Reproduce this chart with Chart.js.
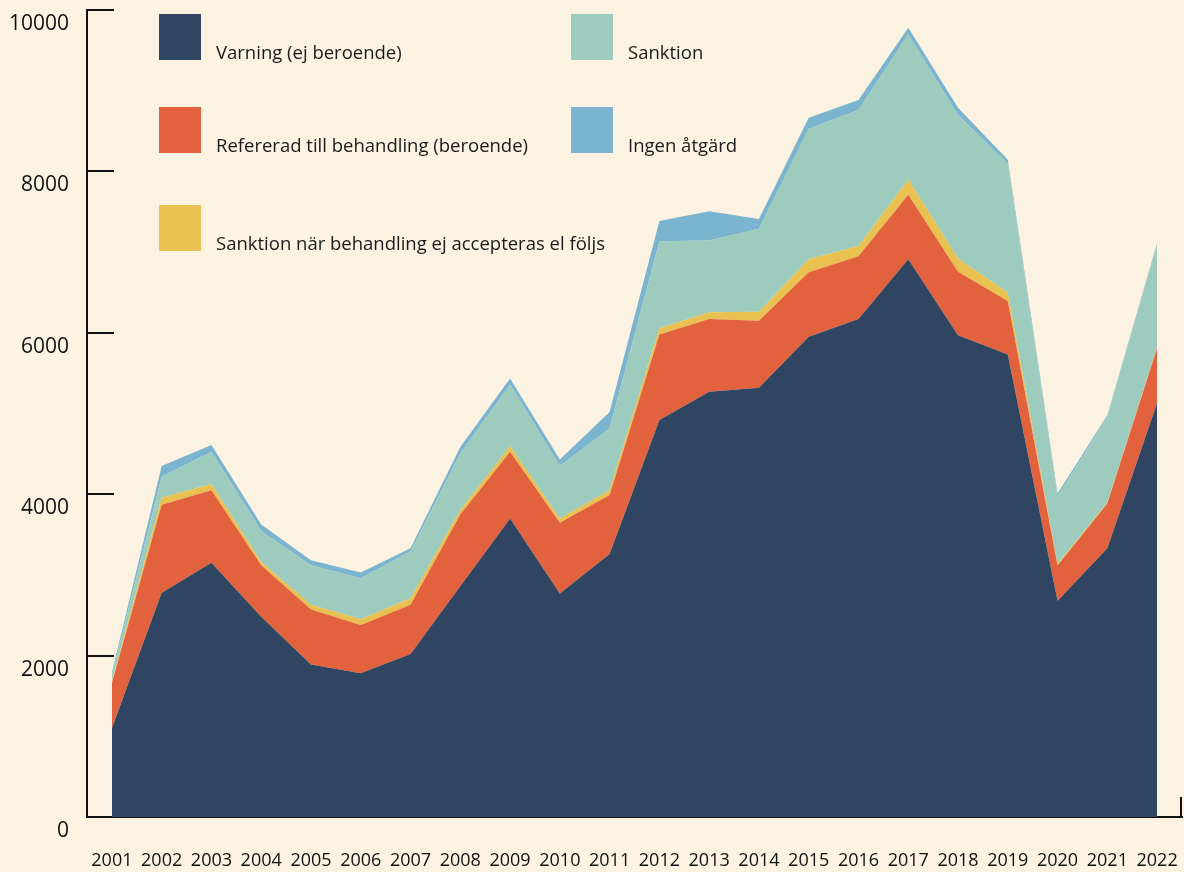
<!DOCTYPE html>
<html>
<head>
<meta charset="utf-8">
<script src="https://cdn.jsdelivr.net/npm/chart.js@4.4.1/dist/chart.umd.min.js"></script>
<style>
  html, body { margin: 0; padding: 0; background: #FBF2E1; }
  #wrap { position: relative; width: 1184px; height: 872px; }
  canvas { position: absolute; left: 0; top: 0; }
  .lg-box { position: absolute; width: 42px; height: 46px; }
  .lg-txt { position: absolute; font-family: "Open Sans", sans-serif; font-size: 18.5px; line-height: 18px; color: #1a1a1a; white-space: nowrap; }
</style>
</head>
<body>
<div id="wrap">
  <canvas id="c" width="1184" height="872"></canvas>
  <div id="legend"></div>
</div>
<script>
const years = ['2001','2002','2003','2004','2005','2006','2007','2008','2009','2010','2011','2012','2013','2014','2015','2016','2017','2018','2019','2020','2021','2022'];
const varning    = [1100, 2780, 3150, 2480, 1890, 1780, 2020, 2860, 3700, 2770, 3260, 4920, 5270, 5320, 5950, 6170, 6910, 5970, 5730, 2680, 3330, 5130];
const refererad  = [560, 1090, 900, 640, 680, 600, 610, 890, 825, 875, 730, 1060, 900, 830, 800, 780, 800, 785, 665, 435, 555, 680];
const sanktionEj = [20, 85, 75, 40, 60, 70, 80, 55, 70, 55, 60, 75, 85, 110, 160, 125, 185, 165, 100, 20, 12, 15];
const sanktion   = [80, 260, 400, 385, 490, 510, 580, 700, 765, 650, 765, 1080, 890, 1030, 1620, 1685, 1800, 1780, 1600, 840, 1060, 1265];
const ingen      = [30, 135, 85, 80, 60, 70, 40, 80, 75, 80, 205, 250, 360, 120, 135, 125, 85, 90, 50, 35, 20, 20];
const yTicks = [0, 2000, 4000, 6000, 8000, 10000];

const seriesNames = ['Varning (ej beroende)', 'Refererad till behandling (beroende)', 'Sanktion när behandling ej accepteras el följs', 'Sanktion', 'Ingen åtgärd'];
const seriesColors = ['#2F4562', '#E2623E', '#E8C150', '#9DCBBE', '#7AB4CE'];
const seriesData = [varning, refererad, sanktionEj, sanktion, ingen];

const datasets = seriesData.map((d, i) => ({
  label: seriesNames[i],
  data: d,
  backgroundColor: seriesColors[i],
  borderWidth: 0,
  pointRadius: 0,
  tension: 0,
  fill: i === 0 ? 'origin' : '-1'
}));

const axisTicks = {
  id: 'axisTicks',
  beforeDatasetsDraw(chart) {
    const ctx = chart.ctx, ys = chart.scales.y, ca = chart.chartArea;
    ctx.save();
    ctx.strokeStyle = '#111';
    ctx.lineWidth = 2;
    ys.ticks.forEach(t => {
      const py = Math.round(ys.getPixelForValue(t.value));
      ctx.beginPath();
      ctx.moveTo(ca.left, py);
      ctx.lineTo(ca.left + 27, py);
      ctx.stroke();
    });
    ctx.beginPath();
    ctx.moveTo(ca.right - 1, ca.bottom);
    ctx.lineTo(ca.right - 1, ca.bottom - 20);
    ctx.stroke();
    ctx.restore();
  }
};

new Chart(document.getElementById('c'), {
  type: 'line',
  data: { labels: years, datasets },
  options: {
    responsive: false,
    animation: false,
    layout: { padding: { top: 10, right: 2, left: 0, bottom: 0 } },
    plugins: { legend: { display: false }, tooltip: { enabled: false } },
    scales: {
      x: {
        type: 'category',
        offset: true,
        grid: { display: true, drawOnChartArea: false, drawTicks: false, color: 'rgba(0,0,0,0)' },
        border: { display: true, color: '#111', width: 2 },
        ticks: { color: '#111', font: { family: 'Open Sans', size: 18 }, padding: 33, maxRotation: 0, autoSkip: false },
        afterFit(s) { s.height = 55; s.paddingLeft = 0; s.paddingRight = 0; }
      },
      y: {
        stacked: true,
        min: 0, max: 10000,
        afterBuildTicks(s) { s.ticks = yTicks.map(v => ({ value: v })); },
        grid: { display: true, drawOnChartArea: false, drawTicks: false, color: 'rgba(0,0,0,0)' },
        border: { display: true, color: '#111', width: 2 },
        ticks: { color: '#111', font: { family: 'Open Sans', size: 21 }, padding: 18, labelOffset: 14, callback: v => String(v) },
        afterFit(s) { s.width = 87; s.paddingTop = 0; s.paddingBottom = 0; }
      }
    }
  },
  plugins: [axisTicks]
});

// legend (column-major, 3 rows x 2 columns)
const lg = document.getElementById('legend');
const colX = [159, 571];
const rowY = [14, 107, 205];
const order = [[0,0],[0,1],[0,2],[1,0],[1,1]];
seriesNames.forEach((name, i) => {
  const [c, r] = order[i];
  const b = document.createElement('div');
  b.className = 'lg-box';
  b.style.left = colX[c] + 'px';
  b.style.top = rowY[r] + 'px';
  b.style.background = seriesColors[i];
  lg.appendChild(b);
  const t = document.createElement('div');
  t.className = 'lg-txt';
  t.textContent = name;
  t.style.left = (colX[c] + 57) + 'px';
  t.style.top = (rowY[r] + 46 - 1 - 16) + 'px';
  lg.appendChild(t);
});
</script>
</body>
</html>
